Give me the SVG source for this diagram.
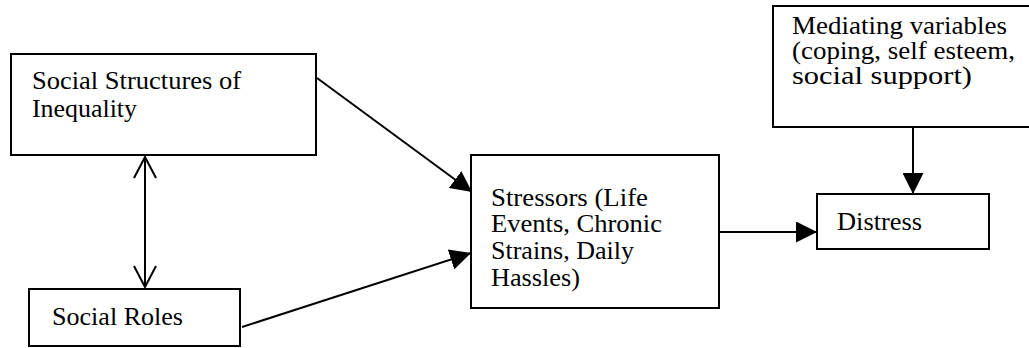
<svg xmlns="http://www.w3.org/2000/svg" width="1029" height="348" viewBox="0 0 1029 348">
  <style>
    .box { fill: #ffffff; stroke: #000000; stroke-width: 2; }
    .lbl { font-family: 'Liberation Serif', 'Times New Roman', Times, serif; font-size: 25px; fill: #000000; }
    .wire { fill: none; stroke: #000000; stroke-width: 2; }
  </style>
  <defs>
    <marker id="solid" viewBox="0 0 20 20" refX="20" refY="10" markerWidth="21" markerHeight="21" markerUnits="userSpaceOnUse" orient="auto">
      <path d="M0,0 L20,10 L0,20 Z" fill="#000000"/>
    </marker>
    <marker id="open" viewBox="0 0 24 24" refX="22" refY="12" markerWidth="24" markerHeight="24" markerUnits="userSpaceOnUse" orient="auto-start-reverse">
      <path d="M1,1 L22,12 L1,23" fill="none" stroke="#000000" stroke-width="2"/>
    </marker>
  </defs>

  <g id="connectors">
    <line class="wire" x1="145" y1="157" x2="145" y2="287" marker-start="url(#open)" marker-end="url(#open)"/>
    <line class="wire" x1="317" y1="78" x2="472" y2="192" marker-end="url(#solid)"/>
    <line class="wire" x1="242" y1="327" x2="471" y2="253" marker-end="url(#solid)"/>
    <line class="wire" x1="720" y1="232" x2="817" y2="232" marker-end="url(#solid)"/>
    <line class="wire" x1="913" y1="127" x2="913" y2="194" marker-end="url(#solid)"/>
  </g>

  <g id="social-structures">
    <rect class="box" x="11" y="54" width="305" height="101"/>
    <text class="lbl" x="32" y="89" textLength="209" lengthAdjust="spacingAndGlyphs">Social Structures of</text>
    <text class="lbl" x="32" y="117" textLength="105" lengthAdjust="spacingAndGlyphs">Inequality</text>
  </g>

  <g id="social-roles">
    <rect class="box" x="29" y="289" width="211" height="57"/>
    <text class="lbl" x="52" y="325" textLength="131" lengthAdjust="spacingAndGlyphs">Social Roles</text>
  </g>

  <g id="stressors">
    <rect class="box" x="471" y="155" width="248" height="153"/>
    <text class="lbl" x="491" y="206" textLength="157" lengthAdjust="spacingAndGlyphs">Stressors (Life</text>
    <text class="lbl" x="491" y="232" textLength="171" lengthAdjust="spacingAndGlyphs">Events, Chronic</text>
    <text class="lbl" x="491" y="259" textLength="143" lengthAdjust="spacingAndGlyphs">Strains, Daily</text>
    <text class="lbl" x="491" y="286" textLength="89" lengthAdjust="spacingAndGlyphs">Hassles)</text>
  </g>

  <g id="mediating-variables">
    <rect class="box" x="773" y="6" width="270" height="121"/>
    <text class="lbl" x="792" y="34" textLength="215" lengthAdjust="spacingAndGlyphs">Mediating variables</text>
    <text class="lbl" x="792" y="59" textLength="223" lengthAdjust="spacingAndGlyphs">(coping, self esteem,</text>
    <text class="lbl" x="792" y="84" textLength="180" lengthAdjust="spacingAndGlyphs">social support)</text>
  </g>

  <g id="distress">
    <rect class="box" x="817" y="194" width="172" height="55"/>
    <text class="lbl" x="837" y="230" textLength="85" lengthAdjust="spacingAndGlyphs">Distress</text>
  </g>
</svg>
